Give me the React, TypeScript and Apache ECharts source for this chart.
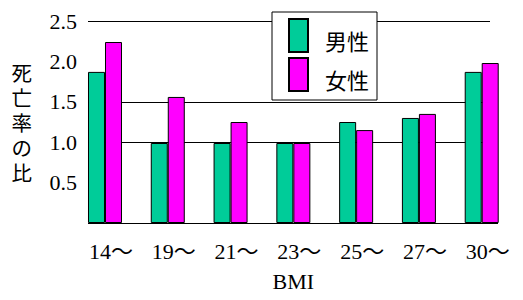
import React, { useEffect, useRef } from "react";
import * as echarts from "echarts";

const categories = ["14～", "19～", "21～", "23～", "25～", "27～", "30～"];
const seriesNames = ["男性", "女性"];
const maleValues = [1.87, 0.99, 0.99, 0.99, 1.25, 1.3, 1.87];
const femaleValues = [2.24, 1.56, 1.25, 0.99, 1.15, 1.35, 1.98];
const gridLevels = [1.0, 1.5, 2.5];
const yMin = 0;
const yMax = 2.5;
const yStep = 0.5;

const SERIF = "'Liberation Serif', 'Times New Roman', 'Noto Sans CJK JP', serif";
const GOTHIC = "'Noto Sans CJK JP', sans-serif";

export default function App() {
  const ref = useRef<HTMLDivElement>(null);
  useEffect(() => {
    if (!ref.current) return;
    const chart = echarts.init(ref.current, null, { renderer: "svg" });
    const first = categories[0];
    const last = categories[categories.length - 1];
    const lines: any[] = gridLevels.map((v) => [
      { xAxis: first, yAxis: v, x: 88 },
      { xAxis: last, yAxis: v, x: 490 },
    ]);
    lines.push([
      { xAxis: first, yAxis: yMin, x: 88 },
      { xAxis: last, yAxis: yMin, x: 498 },
    ]);
    chart.setOption({
      animation: false,
      backgroundColor: "#ffffff",
      grid: { left: 73.6, right: 9.9, top: 21, bottom: 77 },
      legend: {
        orient: "vertical",
        left: 272,
        top: 12,
        padding: [6, 8, 8, 16],
        itemWidth: 19,
        itemHeight: 33,
        itemGap: 4,
        borderColor: "#000",
        borderWidth: 1,
        backgroundColor: "#fff",
        icon: "rect",
        data: seriesNames,
        formatter: (name: string) => `{t|${name}}`,
        textStyle: {
          fontFamily: GOTHIC,
          fontSize: 22,
          color: "#000",
          rich: {
            t: {
              fontFamily: GOTHIC,
              fontSize: 22,
              lineHeight: 22,
              color: "#000",
              padding: [9, 0, 0, 12],
            },
          },
        },
      },
      xAxis: {
        type: "category",
        data: categories,
        axisLine: { show: false },
        axisTick: { show: false },
        axisLabel: {
          fontFamily: SERIF,
          fontSize: 22,
          color: "#000",
          margin: 17,
          padding: [0, 0, 0, 12],
          interval: 0,
        },
        name: "BMI",
        nameLocation: "middle",
        nameGap: 47,
        nameTextStyle: { fontFamily: SERIF, fontSize: 22, color: "#000" },
      },
      yAxis: {
        type: "value",
        min: yMin,
        max: yMax,
        interval: yStep,
        offset: -14.4,
        axisLine: { show: false },
        axisTick: { show: false },
        splitLine: { show: false },
        axisLabel: {
          showMinLabel: false,
          fontFamily: SERIF,
          fontSize: 22,
          color: "#000",
          margin: 11,
          formatter: (v: number) => (v === 0 ? "" : v.toFixed(1)),
        },
        name: "死\n亡\n率\nの\n比",
        nameLocation: "middle",
        nameRotate: 0,
        nameGap: 56,
        nameTextStyle: {
          fontFamily: GOTHIC,
          fontSize: 20.5,
          lineHeight: 25,
          color: "#000",
          align: "right",
        },
      },
      series: [
        {
          name: seriesNames[0],
          type: "bar",
          data: maleValues,
          barWidth: 17,
          barGap: "0%",
          z: 3,
          itemStyle: { color: "#00CC99", borderColor: "#000", borderWidth: 1 },
          markLine: {
            silent: true,
            symbol: "none",
            z: 1,
            label: { show: false },
            lineStyle: { color: "#000", width: 1, type: "solid" },
            emphasis: { disabled: true },
            data: lines,
          },
        },
        {
          name: seriesNames[1],
          type: "bar",
          data: femaleValues,
          barWidth: 17,
          barGap: "0%",
          z: 3,
          itemStyle: { color: "#FF00FF", borderColor: "#000", borderWidth: 1 },
        },
      ],
    });
    return () => chart.dispose();
  }, []);
  return (
    <div
      ref={ref}
      style={{ position: "fixed", left: 0, top: 0, width: 523, height: 300 }}
    />
  );
}
